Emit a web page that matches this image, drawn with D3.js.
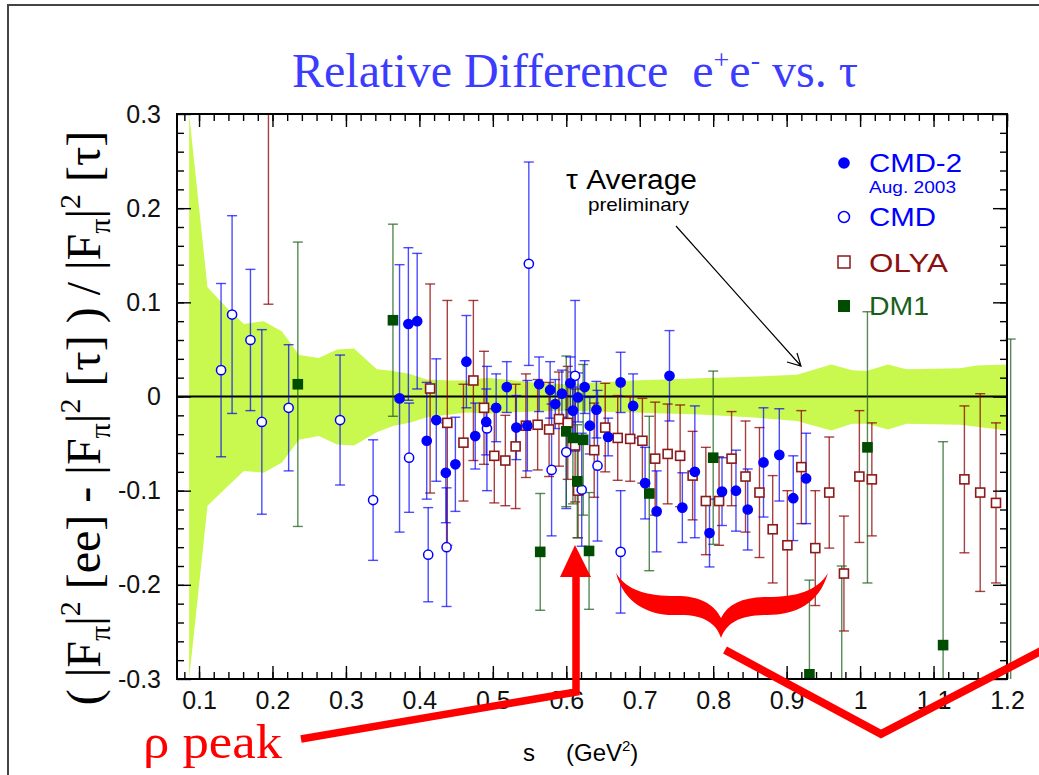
<!DOCTYPE html>
<html>
<head>
<meta charset="utf-8">
<script src="https://cdn.jsdelivr.net/npm/d3@7"></script>
<style>
  body { margin: 0; background: #fff; }
  svg { display: block; }
  .tick text { font-family: "Liberation Sans", Arial, sans-serif; font-size: 25px; fill: #111; }
</style>
</head>
<body>
<svg id="chart" width="1039" height="775"></svg>
<script>
// tick labels
var xTicks = [0.1, 0.2, 0.3, 0.4, 0.5, 0.6, 0.7, 0.8, 0.9, 1, 1.1, 1.2];
var yTicks = [-0.3, -0.2, -0.1, 0, 0.1, 0.2, 0.3];

// tau average error band (upper / lower edge)
var bandS  = [0.0865, 0.1115, 0.138, 0.161, 0.188, 0.213, 0.236, 0.263, 0.288, 0.311, 0.342, 0.365, 0.387, 0.410, 0.442, 0.4645, 0.492, 0.555, 0.601, 0.691, 0.782, 0.850, 0.914, 0.961, 0.989, 1.009, 1.038, 1.063, 1.136, 1.159, 1.2];
var bandHi = [0.30, 0.116, 0.094, 0.077, 0.080, 0.069, 0.044, 0.041, 0.050, 0.051, 0.029, 0.027, 0.024, 0.018, 0.017, 0.017, 0.020, 0.015, 0.013, 0.017, 0.0195, 0.021, 0.023, 0.034, 0.028, 0.027, 0.034, 0.029, 0.030, 0.033, 0.034];
var bandLo = [-0.30, -0.116, -0.096, -0.079, -0.081, -0.070, -0.046, -0.042, -0.051, -0.052, -0.038, -0.031, -0.028, -0.022, -0.019, -0.017, -0.018, -0.016, -0.015, -0.017, -0.019, -0.022, -0.026, -0.036, -0.029, -0.029, -0.035, -0.029, -0.030, -0.032, -0.036];

// CMD-2 (Aug. 2003)
var cmd2S   = [0.373, 0.385, 0.397, 0.410, 0.423, 0.436, 0.449, 0.464, 0.476, 0.491, 0.5045, 0.519, 0.532, 0.547, 0.563, 0.578, 0.585, 0.594, 0.6055, 0.609, 0.616, 0.625, 0.632, 0.641, 0.657, 0.674, 0.691, 0.7073, 0.723, 0.7405, 0.758, 0.775, 0.795, 0.812, 0.831, 0.847, 0.8685, 0.890, 0.909, 0.9265];
var cmd2Val = [-0.002, 0.077, 0.080, -0.047, -0.025, -0.081, -0.072, 0.037, -0.042, -0.027, -0.012, 0.010, -0.033, -0.031, 0.013, 0.007, -0.008, 0.003, 0.014, -0.015, -0.001, 0.010, -0.031, -0.014, -0.043, 0.015, -0.010, -0.092, -0.122, 0.022, -0.118, -0.080, -0.145, -0.101, -0.100, -0.120, -0.070, -0.062, -0.108, -0.087];
var cmd2Err = [0.142, 0.081, 0.072, 0.062, 0.065, 0.053, 0.050, 0.049, 0.035, 0.035, 0.036, 0.027, 0.034, 0.048, 0.029, 0.030, 0.026, 0.025, 0.028, 0.025, 0.026, 0.028, 0.030, 0.030, 0.020, 0.032, 0.034, 0.038, 0.043, 0.048, 0.037, 0.070, 0.036, 0.036, 0.043, 0.043, 0.058, 0.049, 0.045, 0.048];

// CMD
var cmdS   = [0.130, 0.145, 0.170, 0.1855, 0.222, 0.292, 0.337, 0.386, 0.412, 0.437, 0.492, 0.549, 0.580, 0.600, 0.612, 0.621, 0.6425, 0.674];
var cmdVal = [0.028, 0.087, 0.060, -0.027, -0.012, -0.025, -0.110, -0.065, -0.168, -0.160, -0.034, 0.141, -0.078, -0.059, 0.022, -0.099, -0.0735, -0.165];
var cmdErr = [0.092, 0.105, 0.075, 0.098, 0.067, 0.069, 0.064, 0.058, 0.050, 0.063, 0.066, 0.108, 0.070, 0.060, 0.080, 0.060, 0.080, 0.065];

// OLYA
var olyaS   = [0.1945, 0.4146, 0.438, 0.460, 0.4735, 0.488, 0.502, 0.517, 0.531, 0.545, 0.561, 0.5766, 0.590, 0.602, 0.612, 0.616, 0.638, 0.653, 0.670, 0.687, 0.7036, 0.721, 0.738, 0.755, 0.772, 0.790, 0.808, 0.825, 0.844, 0.863, 0.881, 0.901, 0.920, 0.939, 0.958, 0.978, 0.999, 1.016, 1.142, 1.1635, 1.185];
var olyaVal = [0.35, 0.0085, -0.028, -0.049, 0.017, -0.012, -0.063, -0.068, -0.053, -0.031, -0.030, -0.035, -0.024, -0.028, -0.052, -0.100, -0.057, -0.033, -0.044, -0.045, -0.047, -0.066, -0.061, -0.063, -0.084, -0.111, -0.111, -0.066, -0.085, -0.102, -0.141, -0.158, -0.075, -0.161, -0.102, -0.188, -0.085, -0.088, -0.088, -0.102, -0.113];
var olyaErr = [0.252, 0.111, 0.130, 0.062, 0.085, 0.060, 0.050, 0.048, 0.066, 0.055, 0.048, 0.050, 0.050, 0.060, 0.060, 0.050, 0.050, 0.047, 0.045, 0.045, 0.045, 0.060, 0.053, 0.054, 0.047, 0.057, 0.047, 0.050, 0.059, 0.069, 0.057, 0.058, 0.060, 0.061, 0.059, 0.061, 0.070, 0.060, 0.078, 0.105, 0.085];

// DM1
var dm1S   = [0.2345, 0.364, 0.5645, 0.600, 0.609, 0.615, 0.623, 0.631, 0.713, 0.800, 0.931, 0.975, 1.010, 1.113, 1.205];
var dm1Val = [0.013, 0.081, -0.165, -0.037, -0.044, -0.090, -0.046, -0.164, -0.103, -0.065, -0.295, -0.40, -0.054, -0.264, -0.35];
var dm1Err = [0.151, 0.102, 0.062, 0.080, 0.070, 0.060, 0.080, 0.062, 0.082, 0.092, 0.100, 0.22, 0.144, 0.216, 0.411];

var margin = {top: 114, right: 32, bottom: 96, left: 177},
    width = 1039 - margin.left - margin.right,
    height = 775 - margin.top - margin.bottom;

var svg = d3.select("#chart");
var sans = "'Liberation Sans', Arial, sans-serif",
    serif = "'Liberation Serif', 'Times New Roman', serif";

// outer slide border
svg.append("path")
    .attr("d", "M8,775 V5 H1039")
    .attr("fill", "none")
    .attr("stroke", "#444")
    .attr("stroke-width", 2);

var g = svg.append("g")
    .attr("transform", "translate(" + margin.left + "," + margin.top + ")");

var x = d3.scaleLinear().domain([0.07, 1.2]).range([0, width]);
var y = d3.scaleLinear().domain([-0.3, 0.3]).range([height, 0]);

// green band
var band = bandS.map(function(d, i) { return [d, bandLo[i], bandHi[i]]; });
g.append("path")
    .datum(band)
    .attr("fill", "#c9f84e")
    .attr("d", d3.area()
        .x(function(d) { return x(d[0]); })
        .y0(function(d) { return y(d[1]); })
        .y1(function(d) { return y(d[2]); }));

// zero line
g.append("line")
    .attr("x1", 0).attr("x2", width)
    .attr("y1", y(0)).attr("y2", y(0))
    .attr("stroke", "#000").attr("stroke-width", 2.2);

// error bars, clipped at the frame
function drawErrors(s, v, e, color, opac) {
    var grp = g.append("g")
        .attr("stroke", color)
        .attr("stroke-width", 1.4)
        .attr("stroke-opacity", opac);
    s.forEach(function(d, i) {
        var hi = v[i] + e[i], lo = v[i] - e[i];
        var top = Math.min(hi, 0.3), bot = Math.max(lo, -0.3);
        if (top <= bot) return;
        var cx = x(d);
        grp.append("line").attr("x1", cx).attr("x2", cx).attr("y1", y(top)).attr("y2", y(bot));
        [hi, lo].forEach(function(c) {
            if (c > 0.3 || c < -0.3) return;
            grp.append("line").attr("x1", cx - 5).attr("x2", cx + 5).attr("y1", y(c)).attr("y2", y(c));
        });
    });
}

function inRange(v) { return v >= -0.3 && v <= 0.3; }

function drawSquares(s, v, fill, stroke) {
    g.append("g").selectAll("rect")
        .data(s.map(function(d, i) { return [d, v[i]]; }).filter(function(d) { return inRange(d[1]); }))
        .enter().append("rect")
        .attr("x", function(d) { return x(d[0]) - 4.5; })
        .attr("y", function(d) { return y(d[1]) - 4.5; })
        .attr("width", 9).attr("height", 9)
        .attr("fill", fill)
        .attr("stroke", stroke)
        .attr("stroke-width", 1.6);
}

function drawCircles(s, v, fill, r) {
    g.append("g").selectAll("circle")
        .data(s.map(function(d, i) { return [d, v[i]]; }).filter(function(d) { return inRange(d[1]); }))
        .enter().append("circle")
        .attr("cx", function(d) { return x(d[0]); })
        .attr("cy", function(d) { return y(d[1]); })
        .attr("r", r)
        .attr("fill", fill)
        .attr("stroke", "#0000ff")
        .attr("stroke-width", 1.5);
}

drawErrors(olyaS, olyaVal, olyaErr, "#8b0000", 0.75);
drawErrors(cmdS, cmdVal, cmdErr, "#0000ff", 0.7);
drawErrors(dm1S, dm1Val, dm1Err, "#1f631f", 0.75);
drawErrors(cmd2S, cmd2Val, cmd2Err, "#0000ff", 0.7);

drawSquares(olyaS, olyaVal, "#fff", "#8b1a1a");
drawCircles(cmdS, cmdVal, "#fff", 4.6);
drawSquares(dm1S, dm1Val, "#004d00", "#004d00");
drawCircles(cmd2S, cmd2Val, "#0000ff", 4.6);

// axes: ticks inward on all four sides
var minorX = d3.range(4, 61).map(function(i) { return +(i * 0.02).toFixed(2); }),
    minorY = d3.range(-14, 15).map(function(i) { return +(i * 0.02).toFixed(2); });
var none = function() { return ""; };

function addAxis(axis, tx, ty) {
    var a = g.append("g").attr("transform", "translate(" + tx + "," + ty + ")").call(axis);
    a.select(".domain").remove();
    a.selectAll("line").attr("stroke", "#000").attr("stroke-width", 1.4);
    return a;
}

addAxis(d3.axisBottom(x).tickValues(minorX).tickSizeInner(-7).tickSizeOuter(0).tickFormat(none), 0, height);
addAxis(d3.axisTop(x).tickValues(minorX).tickSizeInner(-7).tickSizeOuter(0).tickFormat(none), 0, 0);
addAxis(d3.axisLeft(y).tickValues(minorY).tickSizeInner(-7).tickSizeOuter(0).tickFormat(none), 0, 0);
addAxis(d3.axisRight(y).tickValues(minorY).tickSizeInner(-7).tickSizeOuter(0).tickFormat(none), width, 0);

addAxis(d3.axisBottom(x).tickValues(xTicks).tickSizeInner(-13).tickSizeOuter(0).tickPadding(12).tickFormat(d3.format("")), 0, height);
addAxis(d3.axisTop(x).tickValues(xTicks).tickSizeInner(-13).tickSizeOuter(0).tickFormat(none), 0, 0);
addAxis(d3.axisLeft(y).tickValues(yTicks).tickSizeInner(-14).tickSizeOuter(0).tickPadding(16)
    .tickFormat(function(d) { return String(+d.toFixed(1)); }), 0, 0);
addAxis(d3.axisRight(y).tickValues(yTicks).tickSizeInner(-14).tickSizeOuter(0).tickFormat(none), width, 0);

g.append("rect")
    .attr("width", width).attr("height", height)
    .attr("fill", "none").attr("stroke", "#000").attr("stroke-width", 2);

// title
var title = svg.append("text")
    .attr("x", 575).attr("y", 87)
    .attr("text-anchor", "middle")
    .attr("fill", "#3c3cff")
    .style("font-family", serif)
    .style("font-size", "48px");
title.append("tspan").text("Relative Difference\u00a0\u00a0e");
title.append("tspan").attr("dy", -18).style("font-size", "28px").text("+");
title.append("tspan").attr("dy", 18).text("e");
title.append("tspan").attr("dy", -18).style("font-size", "28px").text("-");
title.append("tspan").attr("dy", 18).text(" vs. \u03c4");

// y axis label with sub- and superscripts
var ylab = svg.append("text")
    .attr("transform", "translate(100,418) rotate(-90)")
    .attr("text-anchor", "middle")
    .attr("fill", "#000")
    .style("font-family", serif)
    .style("font-size", "48px");
var pieces = [["( |F", 0], ["\u03c0", 1], ["|", 0], ["2", -1], [" [ee] - |F", 0], ["\u03c0", 1], ["|", 0], ["2", -1],
              [" [\u03c4] ) / |F", 0], ["\u03c0", 1], ["|", 0], ["2", -1], [" [\u03c4]", 0]];
var shift = 0;
pieces.forEach(function(p) {
    var target = p[1] === 1 ? 10 : p[1] === -1 ? -20 : 0;
    ylab.append("tspan")
        .attr("dy", target - shift)
        .style("font-size", p[1] === 0 ? "48px" : "30px")
        .text(p[0]);
    shift = target;
});

// x axis title
svg.append("text").attr("x", 523).attr("y", 761)
    .style("font-family", sans).style("font-size", "24px").text("s");
var xlab = svg.append("text").attr("x", 566).attr("y", 761)
    .style("font-family", sans).style("font-size", "24px");
xlab.append("tspan").text("(GeV");
xlab.append("tspan").attr("dy", -10).style("font-size", "15px").text("2");
xlab.append("tspan").attr("dy", 10).text(")");

// tau average note with arrow
svg.append("text").attr("x", 566).attr("y", 189)
    .attr("textLength", 131).attr("lengthAdjust", "spacingAndGlyphs")
    .style("font-family", sans).style("font-size", "27px").text("\u03c4 Average");
svg.append("text").attr("x", 588).attr("y", 211)
    .attr("textLength", 101).attr("lengthAdjust", "spacingAndGlyphs")
    .style("font-family", sans).style("font-size", "19px").text("preliminary");
svg.append("path")
    .attr("d", "M676,226 L801,366 M787,362 L801,366 L797,353")
    .attr("fill", "none").attr("stroke", "#000").attr("stroke-width", 1.2);

// legend
var legend = svg.append("g").style("font-family", sans);
function legendText(tx, ty, size, len, color, label) {
    legend.append("text").attr("x", tx).attr("y", ty)
        .attr("textLength", len).attr("lengthAdjust", "spacingAndGlyphs")
        .attr("fill", color).style("font-size", size + "px").text(label);
}
legend.append("circle").attr("cx", 844).attr("cy", 163).attr("r", 5.8).attr("fill", "#0000ff");
legendText(869, 172, 26, 93, "#0000ff", "CMD-2");
legendText(869, 193, 17, 87, "#0000ff", "Aug. 2003");
legend.append("circle").attr("cx", 844).attr("cy", 217).attr("r", 5.5).attr("fill", "#fff").attr("stroke", "#0000ff").attr("stroke-width", 1.5);
legendText(869, 226, 26, 67, "#0000ff", "CMD");
legend.append("rect").attr("x", 838).attr("y", 256).attr("width", 12).attr("height", 12).attr("fill", "#fff").attr("stroke", "#8b1a1a").attr("stroke-width", 1.5);
legendText(869, 272, 26, 79, "#8b1010", "OLYA");
legend.append("rect").attr("x", 838).attr("y", 300).attr("width", 12).attr("height", 12).attr("fill", "#004d00");
legendText(869, 315, 26, 60, "#1a5e1a", "DM1");

// red annotations
var red = svg.append("g").attr("fill", "none").attr("stroke", "#ff0000");
red.append("polyline").attr("points", "301,739 576,692 576,572").attr("stroke-width", 7.5);
red.append("polygon").attr("points", "575,545 560,577 591,577").attr("fill", "#ff0000").attr("stroke", "none");
red.append("polyline").attr("points", "725,650 881,734 1045,649").attr("stroke-width", 8);
red.append("path")
    .attr("fill", "#ff0000").attr("stroke", "none")
    .attr("d", "M616,573 C624,604 650,616 676,615 C702,614 716,622 721,638 C727,622 741,615 767,615 C795,615 819,604 828,573 " +
               "C817,591 797,597 767,597 C743,597 728,604 721,618 C714,604 700,596 676,596 C648,596 627,591 616,573 Z");
svg.append("text").attr("x", 143).attr("y", 758)
    .attr("textLength", 139).attr("lengthAdjust", "spacingAndGlyphs")
    .attr("fill", "#ff0000")
    .style("font-family", serif).style("font-size", "48px")
    .text("\u03c1 peak");
</script>
</body>
</html>
